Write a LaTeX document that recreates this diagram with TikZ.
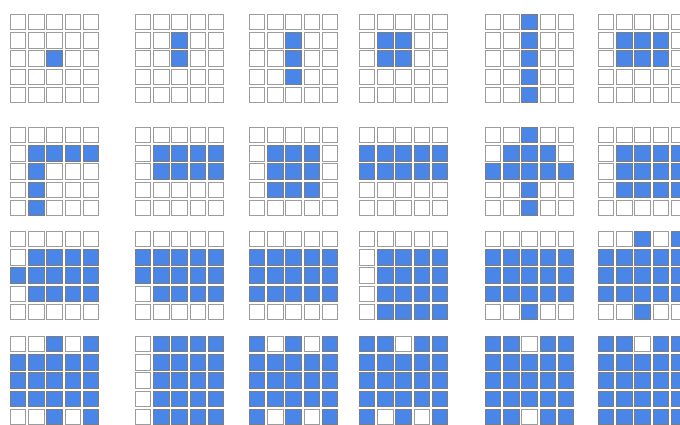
\documentclass[tikz,border=0pt]{standalone}
\usepackage{xcolor}
\usepackage{tikz}
\definecolor{cellblue}{HTML}{4A86E8}
\definecolor{cellline}{HTML}{9C9C9C}
\tikzset{
    cell/.style={draw=cellline, line width=0.6pt, fill=white},
    oncell/.style={cell, fill=cellblue, draw=cellline!80!black}
}
% 5x5 board: x, y (pixels, top left), 25 cells row by row (1 = filled)
\newcommand{\drawboard}[3]{%
  \foreach \v [count=\i from 0] in {#3} {
    \pgfmathtruncatemacro{\brow}{\i/5}
    \pgfmathtruncatemacro{\bcol}{\i-5*\brow}
    \ifnum\v=1
      \draw[oncell] ({#1+\bcol*18.3},{#2+\brow*18.3}) rectangle ++(15.6,15.6);
    \else
      \draw[cell] ({#1+\bcol*18.3},{#2+\brow*18.3}) rectangle ++(15.6,15.6);
    \fi
  }}

\begin{document}
\begin{tikzpicture}[x=0.03cm, y=-0.03cm]

  \useasboundingbox (0,0) rectangle (680,424);
  \clip (0,0) rectangle (680,424);

  % --- Row 1 ---
  \drawboard{10}{14}{0,0,0,0,0, 0,0,0,0,0, 0,0,1,0,0, 0,0,0,0,0, 0,0,0,0,0}
  \drawboard{135}{14}{0,0,0,0,0, 0,0,1,0,0, 0,0,1,0,0, 0,0,0,0,0, 0,0,0,0,0}
  \drawboard{249}{14}{0,0,0,0,0, 0,0,1,0,0, 0,0,1,0,0, 0,0,1,0,0, 0,0,0,0,0}
  \drawboard{359}{14}{0,0,0,0,0, 0,1,1,0,0, 0,1,1,0,0, 0,0,0,0,0, 0,0,0,0,0}
  \drawboard{485}{14}{0,0,1,0,0, 0,0,1,0,0, 0,0,1,0,0, 0,0,1,0,0, 0,0,1,0,0}
  \drawboard{598}{14}{0,0,0,0,0, 0,1,1,1,0, 0,1,1,1,0, 0,0,0,0,0, 0,0,0,0,0}

  % --- Row 2 ---
  \drawboard{10}{127}{0,0,0,0,0, 0,1,1,1,1, 0,1,0,0,0, 0,1,0,0,0, 0,1,0,0,0}
  \drawboard{135}{127}{0,0,0,0,0, 0,1,1,1,1, 0,1,1,1,1, 0,0,0,0,0, 0,0,0,0,0}
  \drawboard{249}{127}{0,0,0,0,0, 0,1,1,1,0, 0,1,1,1,0, 0,1,1,1,0, 0,0,0,0,0}
  \drawboard{359}{127}{0,0,0,0,0, 1,1,1,1,1, 1,1,1,1,1, 0,0,0,0,0, 0,0,0,0,0}
  \drawboard{485}{127}{0,0,1,0,0, 0,1,1,1,0, 1,1,1,1,1, 0,0,1,0,0, 0,0,1,0,0}
  \drawboard{598}{127}{0,0,0,0,0, 0,1,1,1,1, 0,1,1,1,1, 0,1,1,1,1, 0,0,0,0,0}

  % --- Row 3 ---
  \drawboard{10}{231}{0,0,0,0,0, 0,1,1,1,1, 1,1,1,1,1, 0,1,1,1,1, 0,0,0,0,0}
  \drawboard{135}{231}{0,0,0,0,0, 1,1,1,1,1, 1,1,1,1,1, 0,1,1,1,1, 0,0,0,0,0}
  \drawboard{249}{231}{0,0,0,0,0, 1,1,1,1,1, 1,1,1,1,1, 1,1,1,1,1, 0,0,0,0,0}
  \drawboard{359}{231}{0,0,0,0,0, 0,1,1,1,1, 0,1,1,1,1, 0,1,1,1,1, 0,1,1,1,1}
  \drawboard{485}{231}{0,0,0,0,0, 1,1,1,1,1, 1,1,1,1,1, 1,1,1,1,1, 0,0,1,0,0}
  \drawboard{598}{231}{0,0,1,0,1, 1,1,1,1,1, 1,1,1,1,1, 1,1,1,1,1, 0,0,1,0,0}

  % --- Row 4 ---
  \drawboard{10}{336}{0,0,1,0,1, 1,1,1,1,1, 1,1,1,1,1, 1,1,1,1,1, 0,0,1,0,1}
  \drawboard{135}{336}{0,1,1,1,1, 0,1,1,1,1, 0,1,1,1,1, 0,1,1,1,1, 0,1,1,1,1}
  \drawboard{249}{336}{1,0,1,0,1, 1,1,1,1,1, 1,1,1,1,1, 1,1,1,1,1, 1,0,1,0,1}
  \drawboard{359}{336}{1,1,0,1,1, 1,1,1,1,1, 1,1,1,1,1, 1,1,1,1,1, 1,0,1,0,1}
  \drawboard{485}{336}{1,1,0,1,1, 1,1,1,1,1, 1,1,1,1,1, 1,1,1,1,1, 1,1,0,1,1}
  \drawboard{598}{336}{1,1,0,1,1, 1,1,1,1,1, 1,1,1,1,1, 1,1,1,1,1, 1,1,1,1,1}

\end{tikzpicture}
\end{document}
